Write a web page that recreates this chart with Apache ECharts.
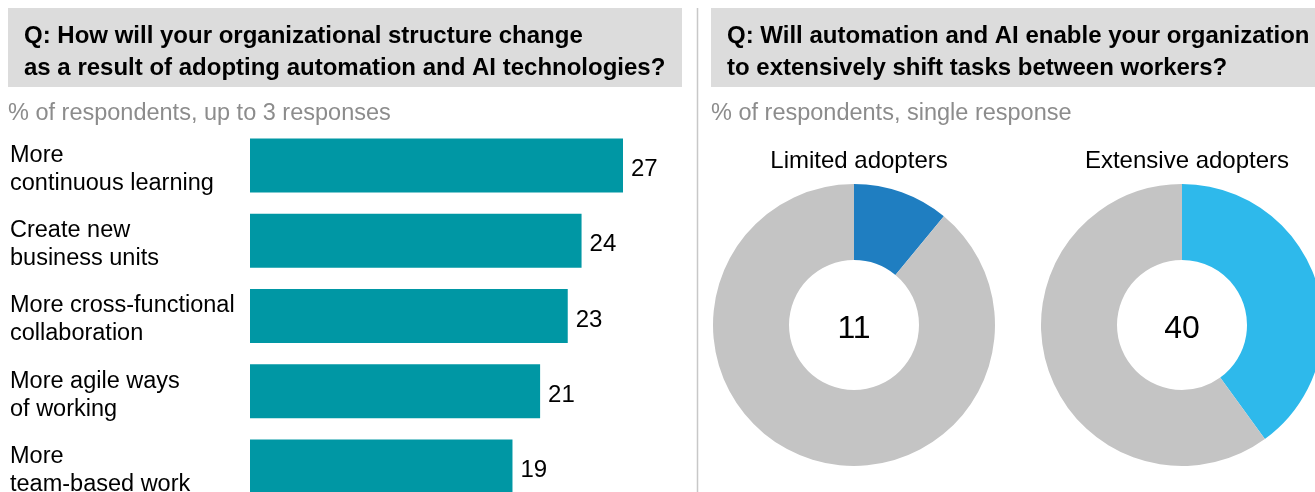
<!DOCTYPE html>
<html>
<head>
<meta charset="utf-8">
<script src="https://cdn.jsdelivr.net/npm/echarts@6/dist/echarts.min.js"></script>
<style>
html, body { margin: 0; padding: 0; background: #fff; }
#chart { width: 1315px; height: 492px; }
</style>
</head>
<body>
<div id="chart"></div>
<script>
// bar chart data
var categories = ['More\ncontinuous learning', 'Create new\nbusiness units', 'More cross-functional\ncollaboration', 'More agile ways\nof working', 'More\nteam-based work'];
var barValues = [27, 24, 23, 21, 19];

// donut data
var donutNames = ['Limited adopters', 'Extensive adopters'];
var limitedValues = [11, 89];
var extensiveValues = [40, 60];

var font = '"Liberation Sans", Arial, sans-serif';
var chart = echarts.init(document.getElementById('chart'));

function donut(center, vals, color) {
    return {
        type: 'pie',
        center: center,
        radius: [65, 141],
        startAngle: 90,
        clockwise: true,
        silent: true,
        animation: false,
        label: { show: false },
        labelLine: { show: false },
        itemStyle: { borderWidth: 0 },
        data: [
            { value: vals[0], itemStyle: { color: color },
              label: { show: true, position: 'center', formatter: '{c}', fontSize: 32, color: '#000', fontFamily: font, offset: [0, 4] } },
            { value: vals[1], itemStyle: { color: '#C4C4C4' } }
        ]
    };
}

var option = {
    animation: false,
    textStyle: { fontFamily: font },
    title: [
        { text: '% of respondents, up to 3 responses', left: 3, top: 97,
          textStyle: { fontSize: 23.5, fontWeight: 'normal', color: '#8C8C8C', fontFamily: font } },
        { text: '% of respondents, single response', left: 706, top: 97,
          textStyle: { fontSize: 23.5, fontWeight: 'normal', color: '#8C8C8C', fontFamily: font } },
        { text: donutNames[0], left: 854, top: 144, textAlign: 'center',
          textStyle: { fontSize: 24, fontWeight: 'normal', color: '#000', fontFamily: font } },
        { text: donutNames[1], left: 1182, top: 144, textAlign: 'center',
          textStyle: { fontSize: 24, fontWeight: 'normal', color: '#000', fontFamily: font } }
    ],
    graphic: [
        { type: 'rect', shape: { x: 8, y: 8, width: 674, height: 79 }, style: { fill: '#DCDCDC' } },
        { type: 'rect', shape: { x: 711, y: 8, width: 604, height: 79 }, style: { fill: '#DCDCDC' } },
        { type: 'line', shape: { x1: 697.5, y1: 8, x2: 697.5, y2: 492 }, style: { stroke: '#C8C8C8', lineWidth: 1.5 } },
        { type: 'text', x: 24, y: 20, style: {
            text: 'Q: How will your organizational structure change\nas a result of adopting automation and AI technologies?',
            font: 'bold 24px "Liberation Sans", Arial, sans-serif', fill: '#000', lineHeight: 32 } },
        { type: 'text', x: 727, y: 20, style: {
            text: 'Q: Will automation and AI enable your organization\nto extensively shift tasks between workers?',
            font: 'bold 24px "Liberation Sans", Arial, sans-serif', fill: '#000', lineHeight: 32 } }
    ],
    grid: { left: 250, top: 128, width: 373, height: 376, outerBoundsMode: 'none' },
    xAxis: {
        type: 'value', min: 0, max: 27,
        show: false
    },
    yAxis: {
        type: 'category',
        data: categories,
        inverse: true,
        axisLine: { show: false },
        axisTick: { show: false },
        axisLabel: {
            align: 'left', margin: 240, fontSize: 23.5, lineHeight: 28,
            color: '#000', fontFamily: font,
            // small empty first line pushes the two text lines down a bit
            formatter: function (v) { return '{s|}\n' + v; },
            rich: { s: { lineHeight: 8, fontSize: 4 } }
        }
    },
    series: [
        {
            type: 'bar',
            data: barValues,
            barWidth: 54,
            itemStyle: { color: '#0097A4' },
            label: { show: true, position: 'right', distance: 8, fontSize: 24, color: '#000', fontFamily: font, offset: [0, 4] },
            silent: true
        },
        donut([854, 325], limitedValues, '#1F7EC1'),
        donut([1182, 325], extensiveValues, '#2EB9EB')
    ]
};
chart.setOption(option);
</script>
</body>
</html>
